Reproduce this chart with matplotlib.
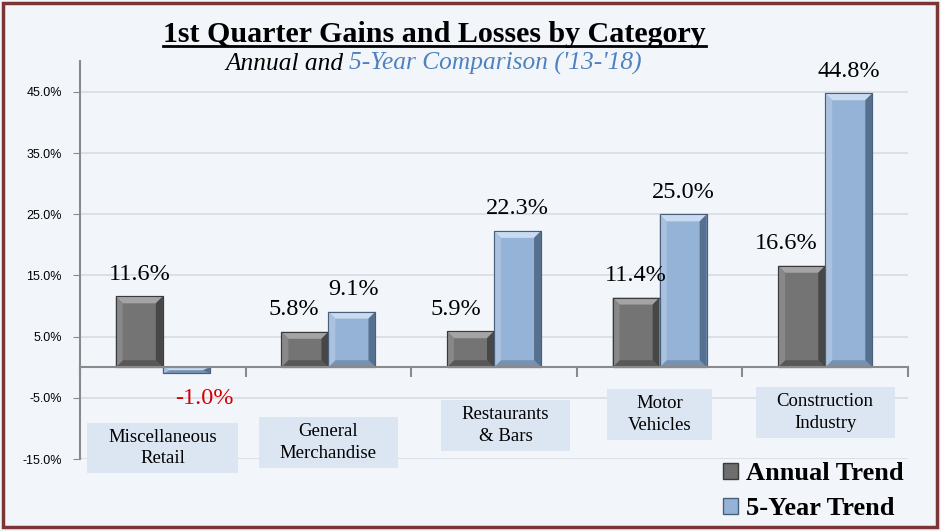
import numpy as np
import matplotlib.pyplot as plt
from matplotlib.patches import Polygon, Rectangle, Patch
from matplotlib.lines import Line2D

# data
categories = ["Miscellaneous\nRetail", "General\nMerchandise", "Restaurants\n& Bars",
              "Motor\nVehicles", "Construction\nIndustry"]
annual = [11.6, 5.8, 5.9, 11.4, 16.6]
five_year = [-1.0, 9.1, 22.3, 25.0, 44.8]
yticks = [45, 35, 25, 15, 5, -5, -15]
ytick_labels = ["45.0%", "35.0%", "25.0%", "15.0%", "5.0%", "-5.0%", "-15.0%"]

W, H = 941, 531
BG = '#f2f6fb'
SERIF = 'Liberation Serif'

fig = plt.figure(figsize=(W / 100, H / 100), dpi=100)
fig.patch.set_facecolor(BG)
ax = fig.add_axes([80 / W, 1 - 459 / H, 828 / W, 397.6 / H])
ax.set_facecolor(BG)

x = np.arange(len(categories))
w = 0.284
b1 = ax.bar(x - w / 2, annual, w, color='#747474', edgecolor='#3a3a3a', lw=0.8, zorder=3)
b2 = ax.bar(x + w / 2, five_year, w, color='#95b3d7', edgecolor='#4a5f7a', lw=0.8, zorder=3)

ax.set_xlim(-0.5, 4.5)
ax.set_ylim(-15, 50)


# bevel look on each bar
def bevel(rect, light, side_l, side_r, bottom):
    x0 = rect.get_x()
    x1 = x0 + rect.get_width()
    ylo = min(rect.get_y(), rect.get_y() + rect.get_height())
    yhi = max(rect.get_y(), rect.get_y() + rect.get_height())
    dx = 0.042
    dy = min(1.15, (yhi - ylo) / 2)
    polys = [
        ([(x0, yhi), (x1, yhi), (x1 - dx, yhi - dy), (x0 + dx, yhi - dy)], light),
        ([(x0, ylo), (x1, ylo), (x1 - dx, ylo + dy), (x0 + dx, ylo + dy)], bottom),
        ([(x0, ylo), (x0, yhi), (x0 + dx, yhi - dy), (x0 + dx, ylo + dy)], side_l),
        ([(x1, ylo), (x1, yhi), (x1 - dx, yhi - dy), (x1 - dx, ylo + dy)], side_r),
    ]
    for pts, c in polys:
        ax.add_patch(Polygon(pts, closed=True, facecolor=c, edgecolor='none', zorder=4))
    ax.add_patch(Rectangle((x0, ylo), x1 - x0, yhi - ylo, fill=False,
                           edgecolor=rect.get_edgecolor(), lw=0.8, zorder=5))


for r in b1:
    bevel(r, '#a4a4a4', '#888888', '#474747', '#585858')
for r in b2:
    bevel(r, '#c9dbf1', '#aac2df', '#56708f', '#7891b2')

# axes styling
ax.set_yticks(yticks)
ax.set_yticklabels(ytick_labels, fontfamily='Liberation Sans', fontsize=9)
ax.yaxis.grid(True, color='#d7dbe2', lw=1.2, zorder=0)
ax.set_axisbelow(True)
ax.spines['top'].set_visible(False)
ax.spines['right'].set_visible(False)
ax.spines['left'].set_color('#8a8a8a')
ax.spines['left'].set_linewidth(1.5)
ax.spines['bottom'].set_position(('data', 0))
ax.spines['bottom'].set_color('#8a8a8a')
ax.spines['bottom'].set_linewidth(1.5)
ax.spines['bottom'].set_zorder(6)
ax.tick_params(axis='y', length=5, color='#8a8a8a', pad=8)
ax.set_xticks(np.arange(-0.5, 5, 1))
ax.set_xticklabels([])
ax.tick_params(axis='x', length=7, width=1.5, color='#8a8a8a', direction='out')

# value labels
ann_dx = [1, -11, -15, 0, -15]
five_dx = [18, 2, 0, 0, 0]
for i, v in enumerate(annual):
    ax.annotate(f"{v:.1f}%", (x[i] - w / 2, v), xytext=(ann_dx[i], 22),
                textcoords='offset pixels', ha='center', va='center',
                fontfamily=SERIF, fontsize=17.5, zorder=7)
for i, v in enumerate(five_year):
    neg = v < 0
    ax.annotate(f"{v:.1f}%", (x[i] + w / 2, v), xytext=(five_dx[i], -25 if neg else 22),
                textcoords='offset pixels', ha='center', va='center',
                fontfamily=SERIF, fontsize=17.5, color='#d40000' if neg else 'black', zorder=7)

# category labels, boxes drawn around the measured text
lab_x = [0, 1, 2.07, 3, 4]
lab_y = [-13.2, -12.3, -9.5, -7.7, -7.4]
cat_texts = []
for i, c in enumerate(categories):
    t = ax.text(lab_x[i], lab_y[i], c, ha='center', va='center', fontfamily=SERIF,
                fontsize=13.5, linespacing=1.35, zorder=8)
    cat_texts.append(t)

# title with underline
title = fig.text(434.5 / W, 1 - 42 / H, "1st Quarter Gains and Losses by Category",
                 ha='center', va='baseline', fontfamily=SERIF, fontweight='bold', fontsize=21.6)
fig.canvas.draw()
rend = fig.canvas.get_renderer()
bb = title.get_window_extent(rend)
uy = (H - 46) / H
fig.add_artist(Line2D([bb.x0 / W, bb.x1 / W], [uy, uy], color='black', lw=2,
                      transform=fig.transFigure))

for t in cat_texts:
    tb = t.get_window_extent(rend)
    ax.add_patch(Rectangle(((tb.x0 - 21) / W, (tb.y0 - 6) / H), (tb.width + 42) / W,
                           (tb.height + 12) / H, transform=fig.transFigure, clip_on=False,
                           facecolor='#dce6f2', edgecolor='none', zorder=7))

# two-colour subtitle
s1 = fig.text(0, 1 - 70 / H, "Annual and ", ha='left', va='baseline',
              fontfamily=SERIF, fontstyle='italic', fontsize=18.3, color='black')
s2 = fig.text(0, 1 - 70 / H, "5-Year Comparison ('13-'18)", ha='left', va='baseline',
              fontfamily=SERIF, fontstyle='italic', fontsize=18.3, color='#4f81bd')
w1 = s1.get_window_extent(rend).width
w2 = s2.get_window_extent(rend).width
x0 = 433.5 - (w1 + w2) / 2
s1.set_x(x0 / W)
s2.set_x((x0 + w1) / W)

# legend
handles = [Patch(facecolor='#6e6e6e', edgecolor='#3a3a3a'),
           Patch(facecolor='#95b3d7', edgecolor='#4a5f7a')]
fig.legend(handles, ["Annual Trend", "5-Year Trend"], loc='lower right',
           bbox_to_anchor=(927 / W, -13 / H), frameon=False,
           prop={'family': SERIF, 'weight': 'bold', 'size': 19},
           handlelength=0.55, handleheight=0.55, handletextpad=0.3, labelspacing=0.45)

# outer border
fig.add_artist(Rectangle((3 / W, 4 / H), 934 / W, 524 / H, transform=fig.transFigure,
                         fill=False, edgecolor='#7b3535', lw=2.5))

fig.savefig('out.png', dpi=100, facecolor=BG)
